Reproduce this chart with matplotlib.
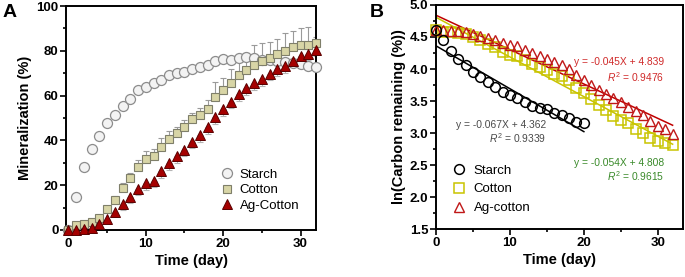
"""Mineralization and ln(carbon remaining) of starch, cotton and Ag-cotton."""

import matplotlib

matplotlib.use("Agg")
import matplotlib.pyplot as plt
from matplotlib.ticker import FormatStrFormatter, MultipleLocator
import numpy as np

plt.rcParams["font.family"] = ["Liberation Sans", "DejaVu Sans"]
plt.rcParams["mathtext.fontset"] = "custom"
plt.rcParams["mathtext.rm"] = "Liberation Sans"
plt.rcParams["mathtext.it"] = "Liberation Sans:italic"

# ---- panel A: mineralization (%) ----
days = np.arange(0, 33)
starch_min = [0, 14.5, 27.9, 36.0, 41.8, 47.8, 51.5, 55.5, 58.7, 62.4, 63.9,
              65.7, 67.2, 69.0, 69.9, 70.4, 72.0, 72.8, 73.9, 75.4, 76.3,
              76.0, 77.0, 77.4, 76.8, 76.0, 76.0, 75.6, 75.0, 74.5, 74.0,
              73.2, 73.0]
cotton_min = [0, 2.0, 2.8, 3.5, 5.5, 9.3, 13.5, 18.8, 23.0, 28.3, 31.6,
              32.8, 37.2, 40.8, 43.5, 46.2, 49.6, 51.3, 54.2, 59.5, 62.6,
              65.7, 69.0, 71.3, 73.6, 75.3, 76.7, 78.7, 80.0, 81.5, 82.4,
              82.8, 83.3]
cotton_err = [0, 0.5, 0.5, 0.8, 1.0, 1.2, 1.5, 2.0, 2.5, 3.0, 3.5,
              3.5, 4.0, 3.3, 2.4, 3.0, 2.8, 3.3, 4.0, 6.5, 5.4,
              6.0, 6.8, 7.9, 9.0, 8.4, 7.3, 6.5, 8.2, 7.5, 8.0,
              8.0, 3.0]
agcotton_min = [0, 0, 0.5, 1.0, 2.5, 5.0, 8.0, 11.5, 14.5, 18.5, 21.0,
                22.0, 26.3, 29.8, 32.8, 35.8, 39.5, 42.2, 45.8, 50.4, 54.0,
                57.3, 60.8, 63.3, 65.5, 67.4, 69.8, 71.8, 73.3, 75.6, 77.5,
                78.5, 80.3]
agcotton_err = [0, 0.3, 0.5, 0.8, 1.0, 1.5, 2.0, 2.5, 2.5, 3.0, 3.0,
                3.0, 3.0, 3.0, 3.0, 3.0, 3.0, 3.0, 3.0, 3.0, 3.0,
                3.0, 3.0, 3.0, 3.0, 3.0, 3.0, 3.0, 3.0, 2.5, 2.5,
                2.5, 2.5]

# ---- panel B: ln(carbon remaining (%)) ----
starch_days = np.arange(0, 21)
starch_ln = [4.605, 4.45, 4.28, 4.16, 4.07, 3.955, 3.88, 3.80, 3.72, 3.64,
             3.59, 3.54, 3.49, 3.43, 3.39, 3.37, 3.32, 3.28, 3.23, 3.18, 3.15]
cotton_ln = [4.605, 4.585, 4.577, 4.569, 4.548, 4.507, 4.460, 4.397, 4.344,
             4.273, 4.225, 4.208, 4.140, 4.081, 4.034, 3.985, 3.920, 3.886,
             3.824, 3.701, 3.622, 3.535, 3.434, 3.357, 3.273, 3.207, 3.149,
             3.059, 2.996, 2.918, 2.868, 2.845, 2.815]
agcotton_ln = [4.605, 4.605, 4.600, 4.595, 4.580, 4.554, 4.522, 4.483, 4.449,
               4.401, 4.369, 4.357, 4.300, 4.251, 4.208, 4.162, 4.103, 4.057,
               3.993, 3.904, 3.829, 3.754, 3.669, 3.603, 3.541, 3.484, 3.408,
               3.339, 3.285, 3.194, 3.114, 3.068, 2.981]
fit_labels = {
    "starch": ("y = -0.067X + 4.362", "0.9339"),
    "cotton": ("y = -0.054X + 4.808", "0.9615"),
    "agcotton": ("y = -0.045X + 4.839", "0.9476"),
}


def style_axes(ax):
    for spine in ax.spines.values():
        spine.set_linewidth(1.4)
    ax.tick_params(which="both", direction="out", width=1.2, labelsize=9.5,
                   pad=1.5)
    ax.tick_params(which="major", length=4)
    ax.tick_params(which="minor", length=2.5)
    for lab in ax.get_xticklabels() + ax.get_yticklabels():
        lab.set_fontweight("bold")


fig = plt.figure(figsize=(6.85, 2.77), dpi=100)

# panel A
ax1 = fig.add_axes([0.0964, 0.170, 0.365, 0.808])
ax1.plot(days, starch_min, "o", ms=7.2, mfc="#f3f3f3", mec="#8c8c8c",
         mew=0.9, label="Starch", clip_on=False, zorder=3)
ax1.errorbar(days, cotton_min, yerr=[np.zeros(len(days)), cotton_err],
             fmt="none", ecolor="#9a9a9a", elinewidth=0.8, capsize=2.5,
             capthick=0.8, zorder=2)
ax1.plot(days, cotton_min, "s", ms=6.0, mfc="#d8d5a6", mec="#7f7f6a",
         mew=0.8, label="Cotton", clip_on=False, zorder=4)
ax1.errorbar(days, agcotton_min, yerr=[agcotton_err, np.zeros(len(days))],
             fmt="none", ecolor="#b5b5b5", elinewidth=0.8, capsize=2.5,
             capthick=0.8, zorder=2)
ax1.plot(days, agcotton_min, "^", ms=7.0, mfc="#a50000", mec="#5a0000",
         mew=0.7, label="Ag-Cotton", clip_on=False, zorder=5)
ax1.set_xlim(-0.3, 32)
ax1.set_ylim(0, 100)
ax1.xaxis.set_major_locator(MultipleLocator(10))
ax1.xaxis.set_minor_locator(MultipleLocator(5))
ax1.yaxis.set_major_locator(MultipleLocator(20))
ax1.yaxis.set_minor_locator(MultipleLocator(10))
ax1.set_xlabel("Time (day)", fontsize=10.5, fontweight="bold", labelpad=3)
ax1.set_ylabel("Mineralization (%)", fontsize=10.5, fontweight="bold",
               labelpad=3)
style_axes(ax1)
ax1.legend(loc="lower right", bbox_to_anchor=(0.97, 0.04), frameon=False,
           fontsize=9.5, handlelength=1.0, handletextpad=0.5,
           labelspacing=0.25, borderpad=0.2)

# panel B
ax2 = fig.add_axes([0.6365, 0.173, 0.3605, 0.809])
ax2.plot(starch_days, starch_ln, "o", ms=7.0, mfc="none", mec="black",
         mew=1.1, label="Starch", clip_on=False, zorder=4)
ax2.plot(days, cotton_ln, "s", ms=6.5, mfc="none", mec="#c9c400",
         mew=1.1, label="Cotton", clip_on=False, zorder=3)
ax2.plot(days, agcotton_ln, "^", ms=7.5, mfc="none", mec="#c01818",
         mew=1.0, label="Ag-cotton", clip_on=False, zorder=3)

# linear fits
for x, y, col in [(starch_days, starch_ln, "black"),
                  (days, cotton_ln, "#c9c400"),
                  (days, agcotton_ln, "#c00000")]:
    k, b = np.polyfit(x, y, 1)
    xx = np.array([x[0], x[-1]])
    ax2.plot(xx, k * xx + b, "-", color=col, lw=1.1, zorder=2)

ax2.set_xlim(0, 33.4)
ax2.set_ylim(1.5, 5.0)
ax2.xaxis.set_major_locator(MultipleLocator(10))
ax2.xaxis.set_minor_locator(MultipleLocator(5))
ax2.yaxis.set_major_locator(MultipleLocator(0.5))
ax2.yaxis.set_minor_locator(MultipleLocator(0.25))
ax2.yaxis.set_major_formatter(FormatStrFormatter("%.1f"))
ax2.set_xlabel("Time (day)", fontsize=10.5, fontweight="bold", labelpad=3)
ax2.set_ylabel("ln(Carbon remaining (%))", fontsize=10.5, fontweight="bold",
               labelpad=3)
style_axes(ax2)
ax2.legend(loc="upper left", bbox_to_anchor=(0.03, 0.33), frameon=False,
           fontsize=9.5, handlelength=1.0, handletextpad=0.6,
           labelspacing=0.5, borderpad=0.2)

ann = [("starch", "#4a4a4a", 14.9, 3.125, 2.92),
       ("agcotton", "#d02a2a", 30.9, 4.11, 3.875),
       ("cotton", "#3a8a2a", 30.9, 2.53, 2.33)]
for key, col, x, y1, y2 in ann:
    eq, r2 = fit_labels[key]
    ax2.text(x, y1, eq, color=col, fontsize=7.4, ha="right", va="center")
    ax2.text(x, y2, r"$R^2$ = " + r2, color=col, fontsize=7.4, ha="right",
             va="center")

fig.text(0.004, 0.985, "A", fontsize=14, fontweight="bold", va="top")
fig.text(0.540, 0.985, "B", fontsize=14, fontweight="bold", va="top")

fig.savefig("out.png", dpi=100)
